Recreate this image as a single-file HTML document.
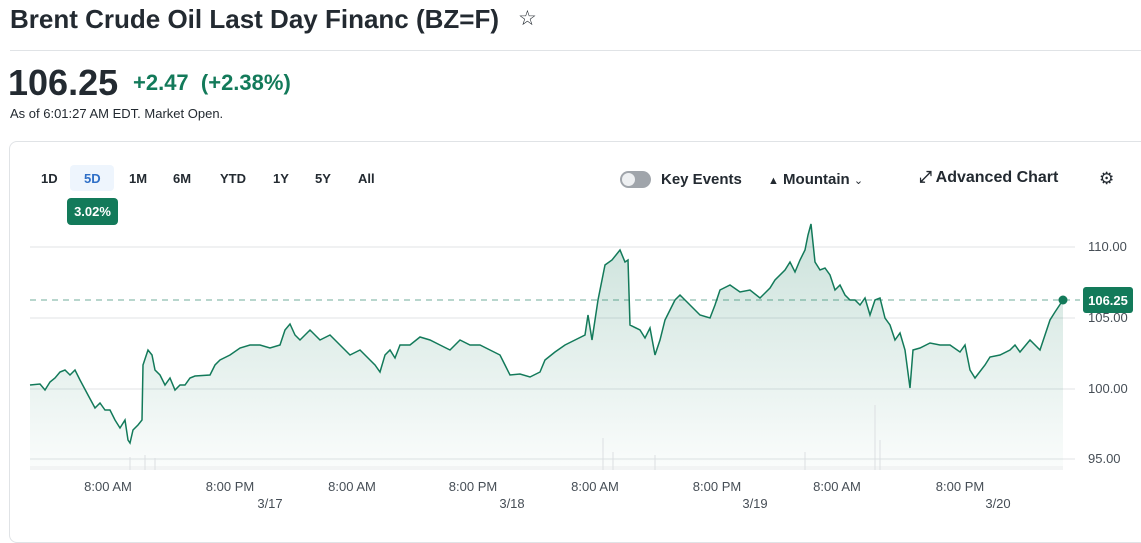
<!DOCTYPE html>
<html><head><meta charset="utf-8"><style>
body{margin:0;width:1141px;height:513px;overflow:hidden;background:#fff;font-family:"Liberation Sans",sans-serif;color:#232a31;position:relative}
.a{position:absolute;white-space:nowrap}
</style></head><body>
<div class="a" style="left:10px;top:4px;font-size:26px;font-weight:bold">Brent Crude Oil Last Day Financ (BZ=F)</div>
<div class="a" style="left:518px;top:6px;font-size:21px">☆</div>
<div class="a" style="left:10px;top:50px;width:1131px;height:1px;background:#e0e3e6"></div>
<div class="a" style="left:8px;top:62px;font-size:36px;font-weight:bold">106.25</div>
<div class="a" style="left:133px;top:70px;font-size:22px;font-weight:bold;color:#137a5a">+2.47 &nbsp;(+2.38%)</div>
<div class="a" style="left:10px;top:106px;font-size:13px">As of 6:01:27 AM EDT. Market Open.</div>
<div class="a" style="left:9px;top:141px;width:1140px;height:400px;border:1px solid #e0e3e6;border-radius:8px"></div>
<div class="a" style="left:70px;top:165px;width:44px;height:26px;background:#eef5fd;border-radius:4px"></div>
<div class="a" style="top:171px;font-size:13px;font-weight:bold;left:41px">1D</div>
<div class="a" style="top:171px;font-size:13px;font-weight:bold;left:84px;color:#2f6fc7">5D</div>
<div class="a" style="top:171px;font-size:13px;font-weight:bold;left:129px">1M</div>
<div class="a" style="top:171px;font-size:13px;font-weight:bold;left:173px">6M</div>
<div class="a" style="top:171px;font-size:13px;font-weight:bold;left:220px">YTD</div>
<div class="a" style="top:171px;font-size:13px;font-weight:bold;left:273px">1Y</div>
<div class="a" style="top:171px;font-size:13px;font-weight:bold;left:315px">5Y</div>
<div class="a" style="top:171px;font-size:13px;font-weight:bold;left:358px">All</div>
<div class="a" style="left:67px;top:198px;height:27px;background:#137a5a;border-radius:4px;color:#fff;font-size:13px;font-weight:bold;line-height:27px;text-align:center;width:51px">3.02%</div>
<div class="a" style="left:620px;top:171px;width:31px;height:17px;background:#a0a5ab;border-radius:9px"><div style="position:absolute;left:2px;top:2px;width:13px;height:13px;background:#eef0f2;border-radius:50%"></div></div>
<div class="a" style="left:661px;top:171px;font-size:15px;font-weight:bold">Key Events</div>
<div class="a" style="left:768px;top:171px;font-size:15px;font-weight:bold"><span style="font-size:11px">▲</span> Mountain <span style="font-size:11px;font-weight:normal">⌄</span></div>
<div class="a" style="left:919px;top:169px;font-size:16px;font-weight:bold">⤢ Advanced Chart</div>
<div class="a" style="left:1099px;top:169px;font-size:17px">⚙</div>
<svg class="a" style="left:0;top:0" width="1141" height="513">
<defs><linearGradient id="g" x1="0" y1="0" x2="0" y2="1"><stop offset="0" stop-color="#137a5a" stop-opacity=".22"/><stop offset="1" stop-color="#137a5a" stop-opacity=".02"/></linearGradient></defs>
<g stroke="#e0e3e6" stroke-width="1"><line x1="30" x2="1075" y1="247" y2="247"/><line x1="30" x2="1075" y1="318" y2="318"/><line x1="30" x2="1075" y1="389" y2="389"/><line x1="30" x2="1075" y1="459" y2="459"/></g>
<path fill="url(#g)" d="M30,385 L40,384 45,390 50,382 55,378 60,372 65,370 70,375 75,370 80,380 88,395 95,408 100,403 105,410 110,410 115,420 120,428 125,420 128,440 130,443 133,430 138,425 142,420 143,365 148,350 152,355 155,370 160,375 165,385 170,378 175,390 180,385 185,385 190,378 195,376 210,375 215,365 220,360 230,355 240,348 250,345 260,345 270,348 280,345 285,330 290,324 295,335 300,340 310,330 320,340 330,335 340,345 350,355 360,350 370,360 375,365 380,372 385,355 390,350 395,358 400,345 410,345 420,337 430,340 440,345 450,350 460,340 470,345 480,345 490,350 500,355 505,365 510,375 520,374 530,377 540,372 545,360 555,352 565,345 575,340 585,335 588,315 592,340 598,300 605,265 612,260 620,250 625,262 628,260 630,325 640,330 645,338 650,328 655,355 660,340 665,320 670,310 675,300 680,295 690,305 700,315 710,318 715,305 720,290 730,285 740,292 750,290 760,298 770,288 775,280 785,270 790,262 795,272 800,260 805,250 808,235 811,224 815,262 820,270 825,268 830,275 835,290 840,285 845,295 850,300 855,300 860,305 865,298 870,315 875,300 880,298 885,318 890,325 895,340 900,333 905,350 910,388 913,350 920,348 930,343 940,345 950,345 960,352 965,345 970,370 975,378 985,365 990,357 1000,355 1010,350 1015,345 1020,352 1030,340 1040,350 1045,335 1050,320 1055,312 1063,300 L1063,470 L30,470 Z"/>
<path fill="none" stroke="#137a5a" stroke-width="1.5" d="M30,385 L40,384 45,390 50,382 55,378 60,372 65,370 70,375 75,370 80,380 88,395 95,408 100,403 105,410 110,410 115,420 120,428 125,420 128,440 130,443 133,430 138,425 142,420 143,365 148,350 152,355 155,370 160,375 165,385 170,378 175,390 180,385 185,385 190,378 195,376 210,375 215,365 220,360 230,355 240,348 250,345 260,345 270,348 280,345 285,330 290,324 295,335 300,340 310,330 320,340 330,335 340,345 350,355 360,350 370,360 375,365 380,372 385,355 390,350 395,358 400,345 410,345 420,337 430,340 440,345 450,350 460,340 470,345 480,345 490,350 500,355 505,365 510,375 520,374 530,377 540,372 545,360 555,352 565,345 575,340 585,335 588,315 592,340 598,300 605,265 612,260 620,250 625,262 628,260 630,325 640,330 645,338 650,328 655,355 660,340 665,320 670,310 675,300 680,295 690,305 700,315 710,318 715,305 720,290 730,285 740,292 750,290 760,298 770,288 775,280 785,270 790,262 795,272 800,260 805,250 808,235 811,224 815,262 820,270 825,268 830,275 835,290 840,285 845,295 850,300 855,300 860,305 865,298 870,315 875,300 880,298 885,318 890,325 895,340 900,333 905,350 910,388 913,350 920,348 930,343 940,345 950,345 960,352 965,345 970,370 975,378 985,365 990,357 1000,355 1010,350 1015,345 1020,352 1030,340 1040,350 1045,335 1050,320 1055,312 1063,300"/>
<rect x="30" y="466" width="1033" height="4" fill="#eceef0" opacity=".6"/>
<g stroke="#dcdfe2" stroke-width="1"><line x1="130" x2="130" y1="470" y2="457"/><line x1="145" x2="145" y1="470" y2="455"/><line x1="155" x2="155" y1="470" y2="458"/><line x1="603" x2="603" y1="470" y2="438"/><line x1="613" x2="613" y1="470" y2="452"/><line x1="805" x2="805" y1="470" y2="452"/><line x1="875" x2="875" y1="470" y2="405"/><line x1="880" x2="880" y1="470" y2="440"/><line x1="655" x2="655" y1="470" y2="455"/></g>
<line x1="30" x2="1080" y1="300" y2="300" stroke="#137a5a" stroke-dasharray="6,5" opacity=".6"/>
<circle cx="1063" cy="300" r="4.5" fill="#137a5a"/>
<rect x="1083" y="287" width="50" height="26" rx="3" fill="#137a5a"/>
<text x="1108" y="305" font-size="13" font-weight="bold" fill="#fff" text-anchor="middle" font-family="Liberation Sans">106.25</text>
<g font-size="13" fill="#464e56" font-family="Liberation Sans"><text x="1088" y="251">110.00</text><text x="1088" y="322">105.00</text><text x="1088" y="393">100.00</text><text x="1088" y="463">95.00</text></g>
<g font-size="13" fill="#464e56" font-family="Liberation Sans" text-anchor="middle"><text x="108" y="491">8:00 AM</text><text x="230" y="491">8:00 PM</text><text x="352" y="491">8:00 AM</text><text x="473" y="491">8:00 PM</text><text x="595" y="491">8:00 AM</text><text x="717" y="491">8:00 PM</text><text x="837" y="491">8:00 AM</text><text x="960" y="491">8:00 PM</text>
<text x="270" y="508">3/17</text><text x="512" y="508">3/18</text><text x="755" y="508">3/19</text><text x="998" y="508">3/20</text></g>
</svg>
</body></html>
